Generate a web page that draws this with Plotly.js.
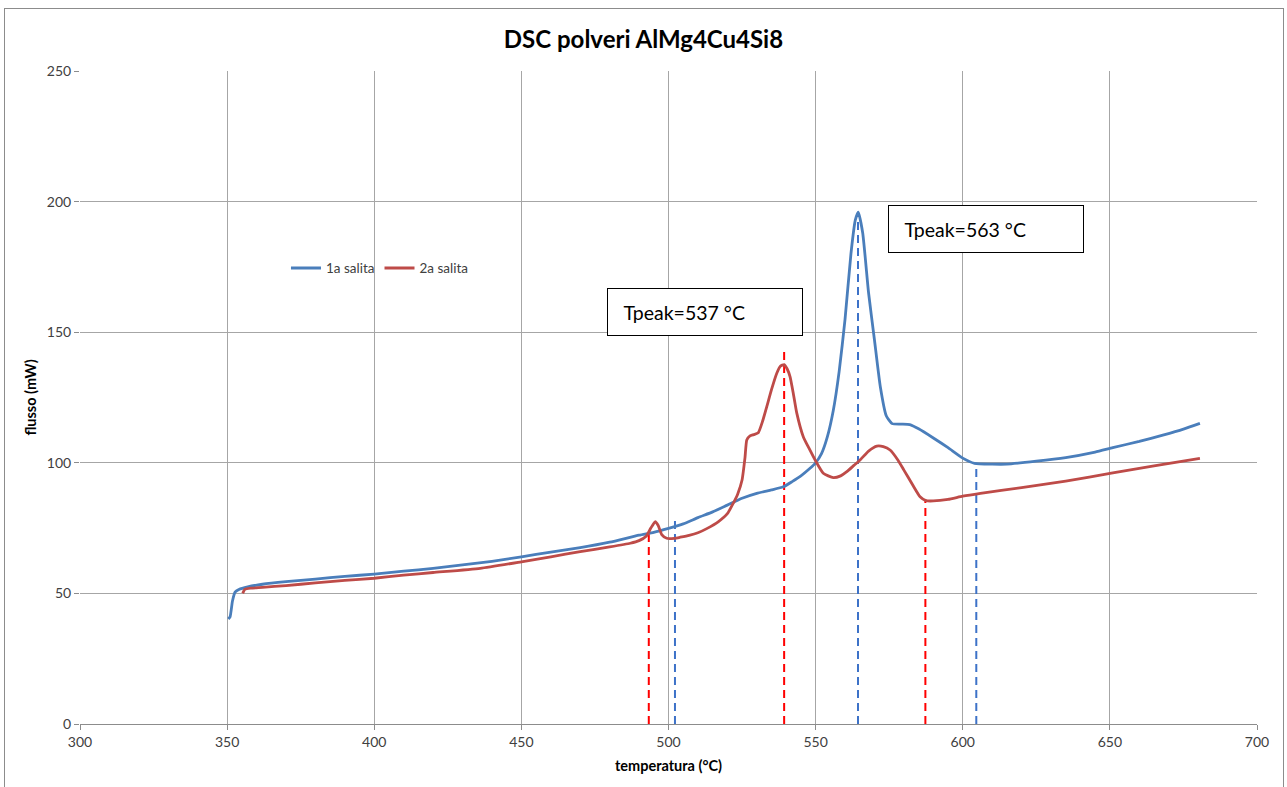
<!DOCTYPE html>
<html>
<head>
<meta charset="utf-8">
<script src="https://cdn.plot.ly/plotly-3.0.1.min.js"></script>
<style>
  html, body { margin: 0; padding: 0; background: #fff; }
  #wrap { position: relative; width: 1287px; height: 787px; }
  #chart { position: absolute; left: 0; top: 0; width: 1287px; height: 787px; }
  #frame { position: absolute; left: 4px; top: 8px; width: 1278px; height: 790px; border: 1px solid #8c8c8c; pointer-events: none; }
</style>
</head>
<body>
<div id="wrap"><div id="chart"></div><div id="frame"></div></div>
<script>
// ---- data ----
const series1Name = "1a salita";
const series1X = [350.4, 351.0, 351.8, 352.7, 354, 357, 362, 370, 380, 390, 400, 410, 420, 430, 440, 450, 460, 470, 480, 490, 495, 500, 505, 510, 515, 520, 525, 530, 535, 539, 542, 545, 548, 550, 552, 554, 556, 558, 560, 562, 563.5, 564.5, 566, 568, 570, 572, 574, 576, 579, 582, 585, 590, 595, 600, 604, 610, 615, 625, 635, 645, 651, 660, 668, 675, 680.6];
const series1Y = [40.2, 41, 47, 50.5, 51.5, 52.5, 53.5, 54.5, 55.5, 56.5, 57.4, 58.5, 59.6, 60.9, 62.3, 64.0, 65.8, 67.5, 69.6, 72.3, 73.4, 74.9, 76.6, 79.0, 81.2, 83.8, 86.4, 88.3, 89.6, 90.8, 92.8, 95.0, 97.8, 100.0, 103.5, 110, 120, 135, 155, 180, 193, 196, 188, 165, 147, 129, 118, 115, 114.8, 114.6, 113, 109.5, 105.8, 101.8, 99.8, 99.5, 99.5, 100.6, 102, 104.1, 105.8, 108.2, 110.6, 112.9, 115.1];

const series2Name = "2a salita";
const series2X = [355.3, 356, 358, 362, 370, 380, 390, 400, 410, 420, 436, 450, 460, 470, 480, 487, 490, 492.5, 494, 495.5, 496.5, 497.7, 499.4, 502, 504, 507, 510, 513, 517, 520, 522, 523.5, 525, 526, 526.6, 527.7, 529, 530.5, 532, 533.4, 535, 536.8, 538, 539.3, 540.3, 541.3, 542.5, 543.6, 545.8, 548, 549.8, 552.6, 556, 558.5, 560.6, 563, 565.1, 568, 570.8, 573, 575.3, 578, 580, 583, 585.5, 587.5, 590, 595, 600, 606, 620, 635, 651, 665, 680.6];
const series2Y = [50, 51.5, 52, 52.3, 53, 54, 55, 55.8, 57, 58, 59.6, 62.1, 64, 66, 67.8, 69.2, 70.2, 72, 75, 77.5, 76, 72.5, 71.1, 71.1, 71.5, 72.2, 73.2, 74.8, 77.5, 80.5, 84.5, 88, 93.4, 102, 108.7, 110.3, 110.8, 111.5, 116, 121.5, 128, 134.3, 137, 137.6, 136, 133, 126, 119, 110, 105, 101.1, 96, 94.3, 95, 96.6, 99, 101.1, 104.5, 106.4, 106.2, 104.9, 101, 97.2, 91.5, 87, 85.5, 85.4, 86, 87.2, 88.3, 90.5, 93, 96.1, 98.8, 101.7];

// dashed reference lines (temperature, top value)
const redMarkX = [493.3, 539.3, 587.3];
const redMarkTop = [74, 142.5, 86];
const blueMarkX = [502.2, 564.4, 604.6];
const blueMarkTop = [79, 195, 100];

const peakLabels = ["Tpeak=537 °C", "Tpeak=563 °C"];
const peakLabelX = [512.4, 607.9];
const peakLabelY = [157.7, 189.7];

const xTicks = [300, 350, 400, 450, 500, 550, 600, 650, 700];
const yTicks = [0, 50, 100, 150, 200, 250];

// ---- build ----
const BLUE = "#4a7ebb";
const RED = "#be4b48";
const FONT = "Lato, 'Open Sans', sans-serif";

function dashTrace(xs, tops, color) {
  const x = [], y = [];
  xs.forEach((v, i) => { x.push(v, v, null); y.push(0, tops[i], null); });
  return { x, y, mode: "lines", type: "scatter", showlegend: false, hoverinfo: "skip",
           line: { color, width: 2, dash: "8px,5px" } };
}

const traces = [
  dashTrace(redMarkX, redMarkTop, "#ff0000"),
  dashTrace(blueMarkX, blueMarkTop, "#3d72c8"),
  { x: series1X, y: series1Y, name: series1Name, mode: "lines", type: "scatter",
    line: { color: BLUE, width: 2.8, shape: "spline", smoothing: 0.5 } },
  { x: series2X, y: series2Y, name: series2Name, mode: "lines", type: "scatter",
    line: { color: RED, width: 2.8, shape: "spline", smoothing: 0.5 } }
];

const annotations = peakLabels.map((t, i) => ({
  x: peakLabelX[i], y: peakLabelY[i], xref: "x", yref: "y",
  text: "&nbsp;&nbsp;&nbsp;" + t, showarrow: false, align: "left",
  width: 192, height: 44, borderpad: 1, bordercolor: "#000", borderwidth: 1,
  bgcolor: "#fff", font: { family: FONT, size: 19.5, color: "#000" }
}));

const layout = {
  width: 1287, height: 787,
  margin: { l: 80, r: 30, t: 71, b: 63 },
  paper_bgcolor: "#fff", plot_bgcolor: "#fff",
  font: { family: FONT, color: "#404040" },
  title: { text: "<b>DSC polveri AlMg4Cu4Si8</b>", x: 0.5, xref: "container", xanchor: "center",
           y: 0.95, yref: "container", yanchor: "middle",
           font: { family: FONT, size: 24, color: "#000" } },
  xaxis: {
    range: [300, 700], tickvals: xTicks, ticktext: xTicks.map(String),
    showgrid: true, gridcolor: "#a6a6a6", gridwidth: 1,
    showline: true, linecolor: "#8c8c8c", linewidth: 1,
    ticks: "outside", ticklen: 5, tickcolor: "#8c8c8c",
    zeroline: false, tickfont: { family: FONT, size: 14, color: "#404040" },
    title: { text: "<b>temperatura (°C)</b>", standoff: 12, font: { family: FONT, size: 14.5, color: "#000" } }
  },
  yaxis: {
    range: [0, 250], tickvals: yTicks, ticktext: yTicks.map(String),
    showgrid: true, gridcolor: "#a6a6a6", gridwidth: 1,
    showline: false,
    ticks: "outside", ticklen: 5, tickcolor: "#8c8c8c",
    zeroline: false, tickfont: { family: FONT, size: 14, color: "#404040" },
    title: { text: "<b>flusso (mW)</b>", standoff: 6, font: { family: FONT, size: 14.5, color: "#000" } }
  },
  showlegend: true,
  legend: { orientation: "h", x: 0.175, y: 0.698, xanchor: "left", yanchor: "middle",
            bgcolor: "rgba(0,0,0,0)", font: { family: FONT, size: 13.5, color: "#404040" },
            itemwidth: 30, tracegroupgap: 0 },
  annotations
};

Plotly.newPlot("chart", traces, layout, { displayModeBar: false, staticPlot: true });
</script>
</body>
</html>
